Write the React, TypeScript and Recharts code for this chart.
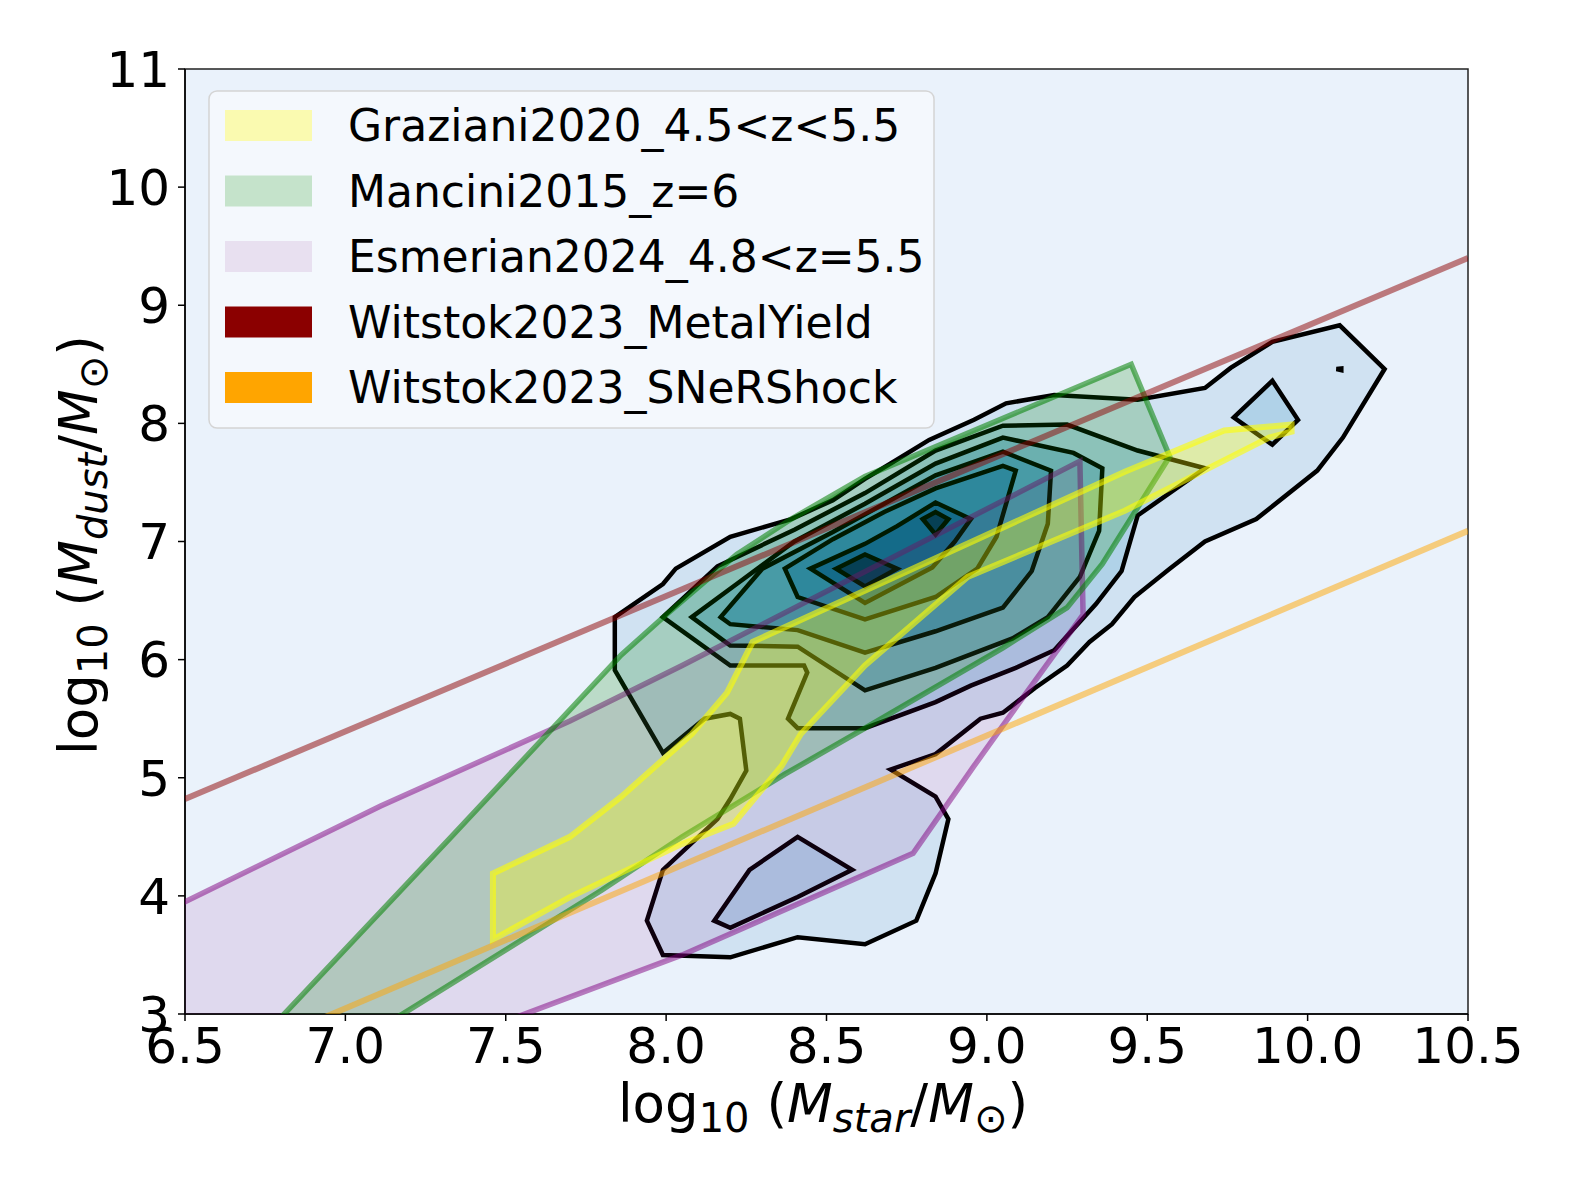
import React from 'react';
import {
  ScatterChart,
  Scatter,
  XAxis,
  YAxis,
  CartesianGrid,
  ReferenceArea,
  Legend,
} from 'recharts';

type Pt = { x: number; y: number };
const pts = (rows: number[][]): Pt[] => rows.map(([x, y]) => ({ x, y }));

const FONT = 'DejaVu Sans';

const X_TICKS = [6.5, 7.0, 7.5, 8.0, 8.5, 9.0, 9.5, 10.0, 10.5];
const Y_TICKS = [3, 4, 5, 6, 7, 8, 9, 10, 11];

// density contours of the simulated galaxies, outermost level first
const densityL1 = pts([
  [7.84, 6.36], [7.99, 6.64], [8.03, 6.77], [8.2, 7.04], [8.39, 7.19], [8.52, 7.35],
  [8.62, 7.53], [8.7, 7.66], [8.82, 7.86], [8.96, 8.03], [9.06, 8.17], [9.21, 8.24],
  [9.47, 8.2], [9.68, 8.3], [9.76, 8.47], [9.89, 8.69], [10.1, 8.83], [10.24, 8.46],
  [10.11, 7.88], [10.03, 7.6], [9.84, 7.19], [9.68, 7.0], [9.57, 6.77], [9.46, 6.53],
  [9.39, 6.3], [9.32, 6.15], [9.25, 5.95], [9.15, 5.76], [9.05, 5.55], [8.98, 5.5],
  [8.84, 5.2], [8.7, 5.07], [8.84, 4.84], [8.88, 4.65], [8.84, 4.19], [8.78, 3.79],
  [8.62, 3.59], [8.41, 3.65], [8.2, 3.48], [7.99, 3.5], [7.94, 3.79], [7.99, 4.22],
  [8.16, 4.65], [8.2, 4.82], [8.25, 5.06], [8.23, 5.5], [8.2, 5.54], [8.12, 5.5],
  [7.99, 5.21], [7.84, 5.91],
]);
const densityL2 = pts([
  [7.99, 6.36], [8.2, 5.95], [8.43, 5.95], [8.44, 5.89], [8.38, 5.5], [8.41, 5.42],
  [8.62, 5.42], [8.84, 5.64], [8.95, 5.78], [9.09, 5.93], [9.21, 6.08], [9.34, 6.47],
  [9.42, 6.75], [9.47, 7.22], [9.68, 7.62], [9.47, 7.77], [9.25, 7.99], [9.05, 7.98],
  [8.84, 7.77], [8.62, 7.41], [8.4, 7.1], [8.16, 6.79],
]);
const densityL2Low = pts([[8.15, 3.79], [8.26, 4.22], [8.41, 4.5], [8.58, 4.22], [8.41, 3.99], [8.2, 3.73]]);
const densityL2Right = pts([[9.77, 8.05], [9.89, 8.36], [9.97, 8.03], [9.89, 7.82]]);
const densityL2Dot = pts([[10.09, 8.46], [10.105, 8.465], [10.105, 8.45]]);
const densityL3 = pts([
  [8.08, 6.36], [8.2, 6.12], [8.41, 6.11], [8.62, 5.74], [8.84, 5.93], [9.08, 6.18],
  [9.19, 6.36], [9.29, 6.7], [9.35, 7.09], [9.36, 7.62], [9.27, 7.75], [9.05, 7.88],
  [8.84, 7.66], [8.62, 7.32], [8.4, 7.0], [8.22, 6.64],
]);
const densityL4 = pts([
  [8.17, 6.36], [8.2, 6.3], [8.41, 6.25], [8.62, 6.06], [8.84, 6.24], [9.05, 6.44],
  [9.14, 6.75], [9.19, 7.15], [9.2, 7.6], [9.05, 7.76], [8.84, 7.56], [8.68, 7.32],
  [8.52, 7.08], [8.3, 6.77],
]);
const densityL5 = pts([
  [8.37, 6.77], [8.41, 6.53], [8.62, 6.34], [8.84, 6.53], [8.97, 6.77], [9.03, 7.04],
  [9.09, 7.6], [9.05, 7.64], [8.84, 7.45], [8.68, 7.25], [8.52, 7.02],
]);
const densityL6 = pts([
  [8.45, 6.77], [8.62, 6.98], [8.72, 7.13], [8.84, 7.33], [8.95, 7.19], [8.9, 7.0],
  [8.83, 6.78], [8.62, 6.48],
]);
const densityL7 = pts([[8.53, 6.77], [8.62, 6.89], [8.72, 6.77], [8.62, 6.62]]);
const densityL7b = pts([[8.8, 7.19], [8.84, 7.25], [8.88, 7.19], [8.84, 7.06]]);

// observational / model bands
const grazianiBand = pts([
  [7.46, 4.19], [7.7, 4.5], [7.86, 4.84], [8.08, 5.37], [8.19, 5.72], [8.27, 6.15],
  [9.43, 7.59], [9.74, 7.94], [9.95, 7.99], [9.95, 7.93], [9.88, 7.88], [9.43, 7.26],
  [8.94, 6.7], [8.62, 5.95], [8.42, 5.37], [8.36, 5.1], [8.21, 4.61], [8.05, 4.44],
  [7.7, 3.99], [7.46, 3.63],
]);
const manciniBand = pts([
  [6.74, 2.8], [7.33, 4.5], [7.86, 6.04], [8.0, 6.38], [8.22, 6.89], [8.39, 7.19],
  [8.62, 7.55], [9.45, 8.5], [9.57, 7.72], [9.36, 6.81], [9.25, 6.44], [9.05, 6.1],
  [8.62, 5.42], [8.37, 5.03], [8.05, 4.5], [7.8, 4.05], [7.06, 2.8],
]);
const esmerianBand = pts([
  [6.39, 3.8], [6.5, 3.95], [7.11, 4.76], [7.7, 5.48], [8.05, 5.95], [9.29, 7.68],
  [9.3, 6.38], [9.11, 5.67], [8.96, 5.1], [8.77, 4.36], [8.05, 3.5], [7.53, 2.97],
  [7.39, 2.81], [6.39, 2.81],
]);
const witstokMetalYield = pts([[6.5, 4.82], [10.5, 9.4]]);
const witstokSNeRShock = pts([[6.5, 2.47], [10.5, 7.09]]);

const LEGEND = [
  { label: 'Graziani2020_4.5<z<5.5', color: '#FAFAB0' },
  { label: 'Mancini2015_z=6', color: '#C5E3CB' },
  { label: 'Esmerian2024_4.8<z=5.5', color: '#E8E0F0' },
  { label: 'Witstok2023_MetalYield', color: '#8B0000' },
  { label: 'Witstok2023_SNeRShock', color: '#FFA500' },
];

type Layer = {
  key: string;
  data: Pt[];
  fill: string;
  fillOpacity: number;
  stroke: string;
  strokeOpacity: number;
  strokeWidth: number;
  closed: boolean;
};

const contour = (key: string, data: Pt[], fill: string): Layer => ({
  key, data, fill, fillOpacity: 1, stroke: '#000', strokeOpacity: 1, strokeWidth: 4.5, closed: true,
});

const LAYERS: Layer[] = [
  contour('l1', densityL1, '#D0E2F2'),
  contour('l2', densityL2, '#B0D2E8'),
  contour('l2low', densityL2Low, '#B0D2E8'),
  contour('l2right', densityL2Right, '#B0D2E8'),
  contour('l2dot', densityL2Dot, '#B0D2E8'),
  contour('l3', densityL3, '#86BCDB'),
  contour('l4', densityL4, '#5AA2D0'),
  contour('l5', densityL5, '#3A8AC3'),
  contour('l6', densityL6, '#1A66AC'),
  contour('l7', densityL7, '#08306B'),
  contour('l7b', densityL7b, '#08306B'),
  { key: 'esmerian', data: esmerianBand, fill: '#800080', fillOpacity: 0.1, stroke: '#800080', strokeOpacity: 0.5, strokeWidth: 5.5, closed: true },
  { key: 'mancini', data: manciniBand, fill: '#008000', fillOpacity: 0.2, stroke: '#008000', strokeOpacity: 0.55, strokeWidth: 5.5, closed: true },
  { key: 'graziani', data: grazianiBand, fill: '#FFFF00', fillOpacity: 0.3, stroke: '#FFFF00', strokeOpacity: 0.6, strokeWidth: 6, closed: true },
  { key: 'metal', data: witstokMetalYield, fill: 'none', fillOpacity: 0, stroke: '#8B0000', strokeOpacity: 0.5, strokeWidth: 6, closed: false },
  { key: 'sner', data: witstokSNeRShock, fill: 'none', fillOpacity: 0, stroke: '#FFA500', strokeOpacity: 0.5, strokeWidth: 6, closed: false },
];

// draws the scatter's joined points as a filled polygon (or an open line)
const polygonLine = (layer: Layer) => (props: any) => {
  const p: { x: number; y: number }[] = props.points || [];
  if (!p.length) return <g />;
  const d = p.map((q, i) => `${i ? 'L' : 'M'}${q.x},${q.y}`).join(' ') + (layer.closed ? ' Z' : '');
  return (
    <path
      d={d}
      fill={layer.closed ? layer.fill : 'none'}
      fillOpacity={layer.fillOpacity}
      stroke={layer.stroke}
      strokeOpacity={layer.strokeOpacity}
      strokeWidth={layer.strokeWidth}
      strokeLinejoin="miter"
    />
  );
};

const XLabel = () => (
  <text x={815} y={1114} textAnchor="middle" fontSize={53} fontFamily={FONT} fill="#000">
    <tspan>log</tspan>
    <tspan fontSize={40} dy={10}>10</tspan>
    <tspan dy={-10}> (</tspan>
    <tspan fontStyle="italic">M</tspan>
    <tspan fontStyle="italic" fontSize={40} dy={10}>star</tspan>
    <tspan dy={-10}>/</tspan>
    <tspan fontStyle="italic">M</tspan>
    <tspan fontSize={40} dy={10}>⊙</tspan>
    <tspan dy={-10}>)</tspan>
  </text>
);

const YLabel = () => (
  <text
    x={89}
    y={537}
    transform="rotate(-90 89 537)"
    textAnchor="middle"
    fontSize={53}
    fontFamily={FONT}
    fill="#000"
  >
    <tspan>log</tspan>
    <tspan fontSize={40} dy={10}>10</tspan>
    <tspan dy={-10}> (</tspan>
    <tspan fontStyle="italic">M</tspan>
    <tspan fontStyle="italic" fontSize={40} dy={10}>dust</tspan>
    <tspan dy={-10}>/</tspan>
    <tspan fontStyle="italic">M</tspan>
    <tspan fontSize={40} dy={10}>⊙</tspan>
    <tspan dy={-10}>)</tspan>
  </text>
);

const LegendBox = () => (
  <svg width={727} height={339} style={{ display: 'block' }}>
    <rect x={1} y={1} width={725} height={337} rx={8} fill="#F4F8FD" stroke="#D4D4D4" strokeWidth={1.5} />
    {LEGEND.map((item, i) => {
      const cy = 35.5 + i * 65.5;
      return (
        <g key={item.label}>
          <rect x={17} y={cy - 15.5} width={87} height={31} fill={item.color} />
          <text x={140} y={cy + 15.5} fontSize={44} fontFamily={FONT} fill="#000">
            {item.label}
          </text>
        </g>
      );
    })}
  </svg>
);

export default function App() {
  return (
    <ScatterChart
      width={1556}
      height={1160}
      margin={{ top: 61, right: 96, bottom: 24, left: 0 }}
      style={{ fontFamily: FONT }}
    >
      <CartesianGrid horizontal={false} vertical={false} fill="#EAF2FB" />
      <XAxis
        type="number"
        dataKey="x"
        domain={[6.5, 10.5]}
        ticks={X_TICKS}
        interval={0}
        allowDataOverflow
        height={130}
        tickFormatter={(v: number) => v.toFixed(1)}
        tick={{ fill: '#000', fontSize: 50, fontFamily: FONT }}
        tickSize={7}
        tickMargin={6}
        axisLine={{ stroke: '#000', strokeWidth: 1.5 }}
        tickLine={{ stroke: '#000', strokeWidth: 1.5 }}
        label={XLabel}
      />
      <YAxis
        type="number"
        dataKey="y"
        domain={[3, 11]}
        ticks={Y_TICKS}
        interval={0}
        allowDataOverflow
        width={177}
        tick={{ fill: '#000', fontSize: 50, fontFamily: FONT }}
        tickSize={7}
        tickMargin={8}
        axisLine={{ stroke: '#000', strokeWidth: 1.5 }}
        tickLine={{ stroke: '#000', strokeWidth: 1.5 }}
        label={YLabel}
      />
      {LAYERS.map((layer) => (
        <Scatter
          key={layer.key}
          name={layer.key}
          data={layer.data}
          line={polygonLine(layer)}
          shape={() => <g />}
          legendType="none"
          isAnimationActive={false}
        />
      ))}
      <ReferenceArea x1={6.5} x2={10.5} y1={3} y2={11} fill="none" fillOpacity={0} stroke="#222" strokeWidth={1.5} />
      <Legend
        layout="vertical"
        align="center"
        verticalAlign="middle"
        content={LegendBox}
        wrapperStyle={{ left: 200, top: 82, width: 727, height: 339 }}
      />
    </ScatterChart>
  );
}
